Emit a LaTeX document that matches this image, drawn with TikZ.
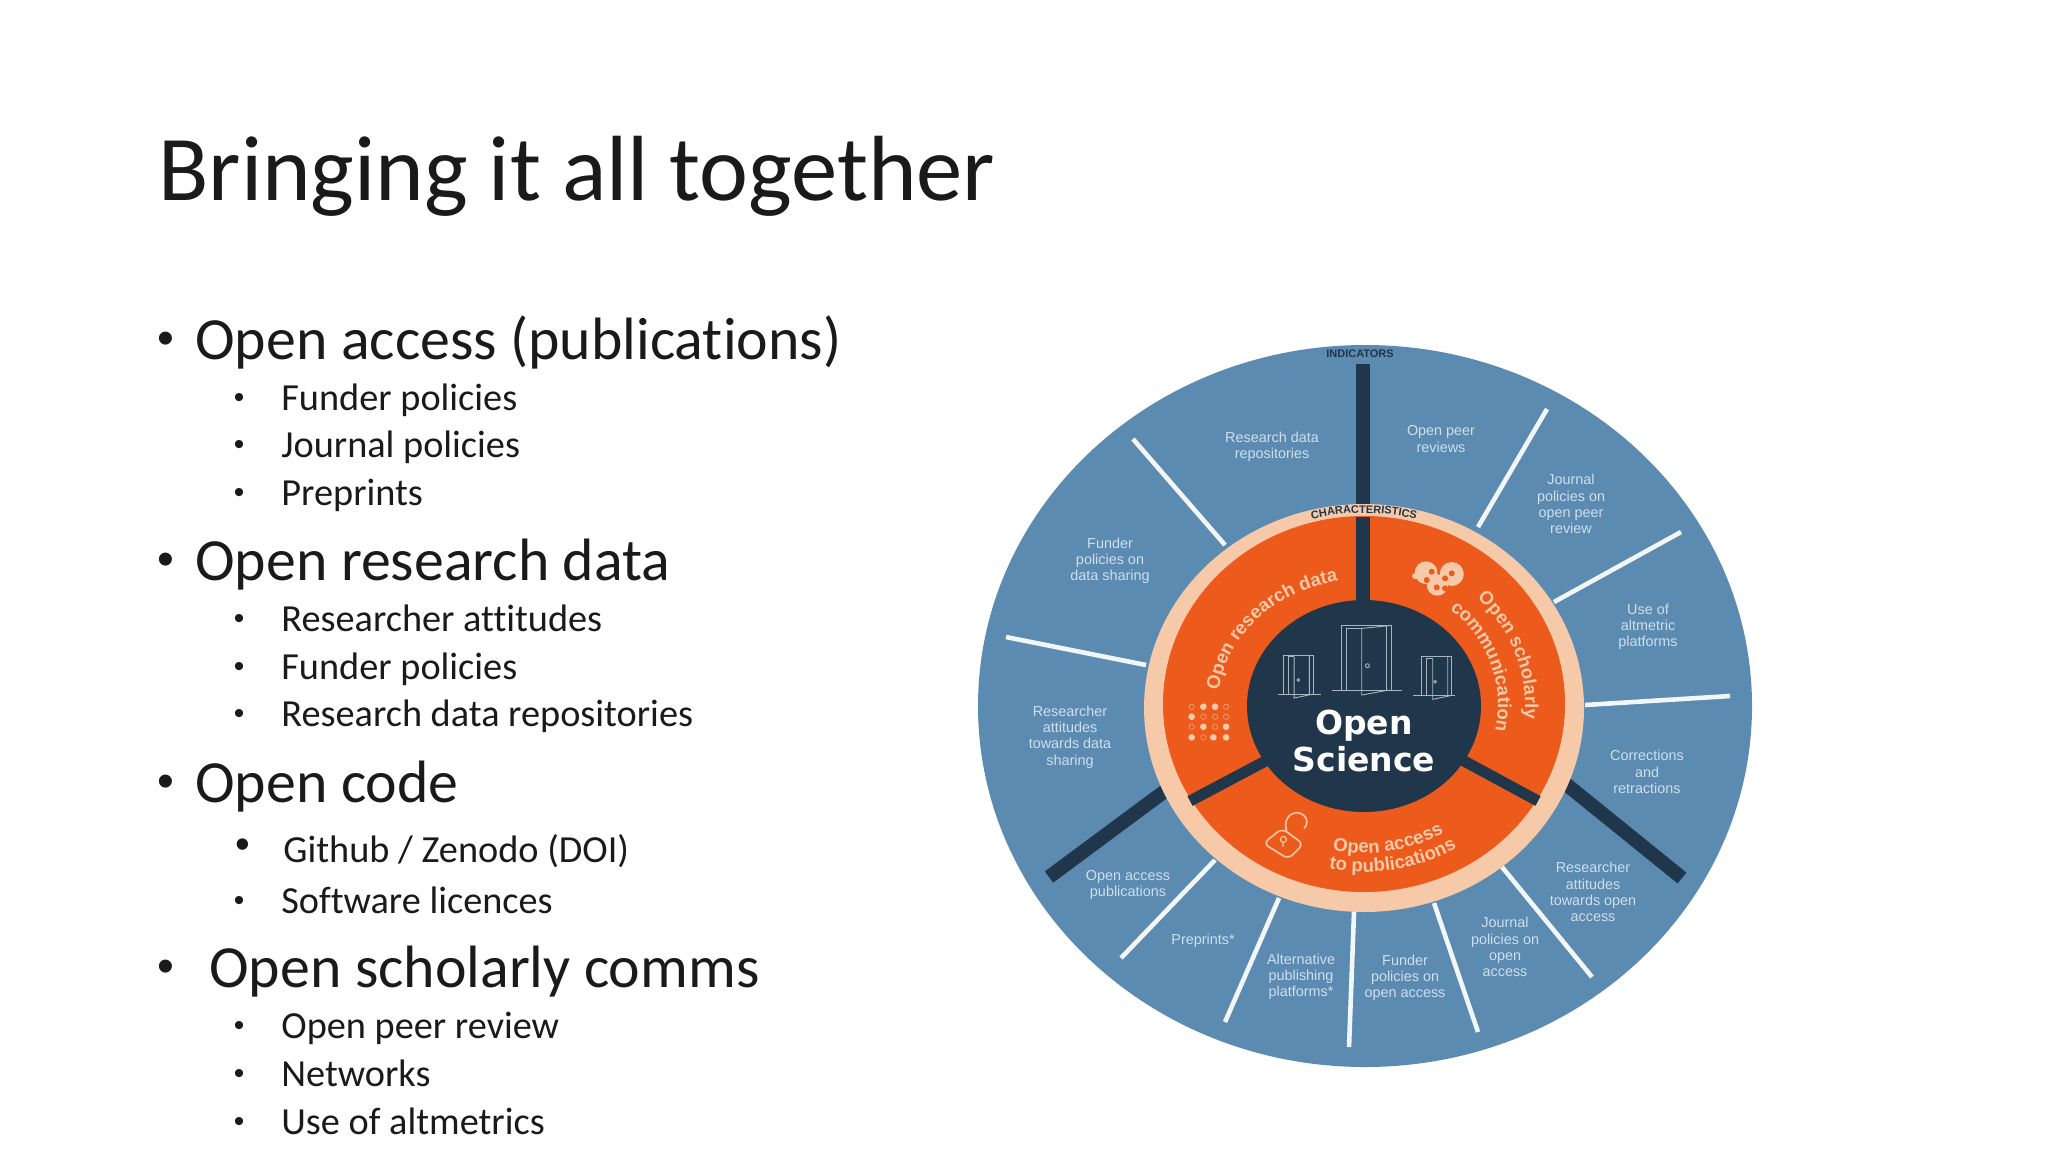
\documentclass[tikz,border=0pt]{standalone}
\usepackage{fontspec}
\usetikzlibrary{decorations.text}
\setmainfont[Ligatures=CommonOff]{Carlito}
\newfontfamily\labfont{Liberation Sans}
\newfontfamily\heavyfont{DejaVu Sans}
\definecolor{diskblue}{HTML}{5B8BB1}
\definecolor{ringpeach}{HTML}{F6C9A8}
\definecolor{corange}{HTML}{EC5A1C}
\definecolor{navy}{HTML}{20364A}
\definecolor{labtxt}{HTML}{CFDFEB}
\definecolor{doorline}{HTML}{A9B6BF}
\definecolor{txt}{HTML}{1A1A1A}
\tikzset{
  head/.style={anchor=base west,inner sep=0,text=txt,font=\fontsize{46.3}{47}\selectfont},
  lone/.style={anchor=base west,inner sep=0,text=txt,font=\fontsize{29.9}{30}\selectfont},
  ltwo/.style={anchor=base west,inner sep=0,text=txt,font=\fontsize{19.15}{20}\selectfont},
  bulone/.style={anchor=base,inner sep=0,text=txt,font=\labfont\fontsize{24}{24}\selectfont},
  bultwo/.style={anchor=base,inner sep=0,text=txt,font=\labfont\fontsize{15}{15}\selectfont},
  lab/.style={align=center,inner sep=0,text=labtxt,font=\labfont\fontsize{7.2}{8.1}\selectfont},
  spokew/.style={draw=white!92!diskblue,line width=2.3pt},
  spoked/.style={draw=navy,line width=7pt},
  spokei/.style={draw=navy,line width=5.5pt},
  doorl/.style={draw=doorline,line width=0.45pt},
}
\newcommand\archtext[6]{\path[decorate,decoration={text along path,text align=center,text={|#6|#5}}] plot[domain=#1:#2,samples=60,variable=\t] ({1364+#3*cos(\t)},{705-#4*sin(\t)});}
\newcommand\curvef{\color{ringpeach}\labfont\bfseries\fontsize{9.3}{10}\selectfont}
\newcommand\smallcaptf{\color{navy}\labfont\bfseries\fontsize{5.5}{6}\selectfont}
\begin{document}
\begin{tikzpicture}[x=0.5pt,y=-0.5pt]
\useasboundingbox (0,0) rectangle (2048,1152);
\fill[white] (0,0) rectangle (2048,1152);
% ---- slide text
\node[head] (title) at (158,200) {Bringing it all together};
\foreach \nm/\xa/\xb/\yy/\tx in {
 a/166/195/359/Open access (publications),
 b/166/195/580/Open research data,
 c/166/195/802/Open code,
 d/166/209/987/Open scholarly comms}{
  \node[bulone] (bul\nm) at (\xa,\yy-5) {•};
  \node[lone] (t\nm) at (\xb,\yy) {\tx};
}
\foreach \nm/\yy/\tx in {
 a1/410/Funder policies,
 a2/457/Journal policies,
 a3/505/Preprints,
 b1/631/Researcher attitudes,
 b2/679/Funder policies,
 b3/726/Research data repositories,
 c2/913/Software licences,
 d1/1038/Open peer review,
 d2/1086/Networks,
 d3/1134/Use of altmetrics}{
  \node[bultwo] (bul\nm) at (239,\yy-3) {•};
  \node[ltwo] (t\nm) at (281,\yy) {\tx};
}
\node[bulone,font=\labfont\fontsize{21}{21}\selectfont] (bulc1) at (243,858) {•};
\node[ltwo] (tc1) at (283,862) {Github / Zenodo (DOI)};
% ---- wheel
\fill[diskblue] (1365,706) ellipse [x radius=387,y radius=361];
% dark spokes outer
\draw[spoked] (1363,364) -- (1363,520);
\draw[spoked] (1049,877) -- (1200,765);
\draw[spoked] (1682,878) -- (1530,755);
% white spokes
\foreach \xa/\ya/\xb/\yb in {
 1133/439/1225/545, 1547/409/1478/527, 1681/532/1554/602, 1730/696/1585/705,
 1006/637/1146/665, 1121/958/1215/860, 1225/1022/1279/898, 1349/1047/1354/912,
 1478/1032/1434/903, 1592/977/1502/867}{
  \draw[spokew] (\xa,\ya) -- (\xb,\yb);
}
\fill[ringpeach] (1364,708) ellipse [x radius=220,y radius=204];
\fill[corange] (1364,704) ellipse [x radius=201,y radius=188];
% dark spokes inner
\draw[spoked] (1363,517) -- (1363,620);
\draw[spokei] (1190,801) -- (1290,748);
\draw[spokei] (1538,801) -- (1440,748);
\fill[navy] (1364,706) ellipse [x radius=117,y radius=106];
% curved labels
\archtext{120}{60}{208}{192}{CHARACTERISTICS}{\smallcaptf}
\archtext{183}{92}{146}{126}{Open research data}{\curvef}
\archtext{50}{-10}{161}{150}{Open scholarly}{\curvef}
\archtext{52}{-14}{134}{125}{communication}{\curvef}
\archtext{250}{309}{159}{148}{Open access}{\curvef}
\archtext{250}{310}{180}{167}{to publications}{\curvef}
\node[inner sep=0,font=\smallcaptf] (ind) at (1360,354) {INDICATORS};
% centre
\node[inner sep=0,text=white,font=\heavyfont\bfseries\fontsize{16.5}{17}\selectfont] (open) at (1364,726) {Open};
\node[inner sep=0,text=white,font=\heavyfont\bfseries\fontsize{16.5}{17}\selectfont] (science) at (1364,759) {Science};
% outer labels
\node[lab] (l1) at (1272,447) {Research data\\repositories};
\node[lab] (l2) at (1441,439) {Open peer\\reviews};
\node[lab] (l3) at (1571,504) {Journal\\policies on\\open peer\\review};
\node[lab] (l4) at (1110,561) {Funder\\policies on\\data sharing};
\node[lab] (l5) at (1648,627) {Use of\\altmetric\\platforms};
\node[lab] (l6) at (1070,737) {Researcher\\attitudes\\towards data\\sharing};
\node[lab] (l7) at (1647,772) {Corrections\\and\\retractions};
\node[lab] (l8) at (1593,892) {Researcher\\attitudes\\towards open\\access};
\node[lab] (l9) at (1128,885) {Open access\\publications};
\node[lab] (l10) at (1203,941) {Preprints*};
\node[lab] (l11) at (1301,977) {Alternative\\publishing\\platforms*};
\node[lab] (l12) at (1405,978) {Funder\\policies on\\open access};
\node[lab] (l13) at (1505,947) {Journal\\policies on\\open\\access};
% ---- icons, in 3x-crop coordinates
\begin{scope}[shift={(1150,500)},x=0.1667pt,y=-0.1667pt]
 % big door
 \draw[doorl] (545,570) -- (755,570);
 \draw[doorl] (590,570) -- (590,385) -- (635,385) (575,570) -- (575,375) -- (725,375) -- (725,570) (710,375) -- (710,570);
 \draw[doorl] (635,385) -- (635,585) -- (716,570) (635,385) -- (716,377);
 \draw[doorl] (652,497) circle (6);
 % left door
 \draw[doorl] (385,582) -- (512,582);
 \draw[doorl] (400,582) -- (400,465) -- (490,465) -- (490,582) (415,582) -- (415,470) -- (432,470);
 \draw[doorl] (432,470) -- (432,594) -- (490,582) (478,465) -- (478,582);
 \draw[doorl] (445,540) circle (4);
 % right door
 \draw[doorl] (790,586) -- (915,586);
 \draw[doorl] (815,586) -- (815,470) -- (905,470) -- (905,586) (830,586) -- (830,476) -- (848,476);
 \draw[doorl] (848,476) -- (848,598) -- (905,586) (893,470) -- (893,586);
 \draw[doorl] (855,545) circle (4);
 % open lock
 \draw[draw=ringpeach,line width=0.8pt,rounded corners=3pt] (340,1030) -- (396,985) -- (460,1032) -- (415,1077) -- cycle;
 \draw[draw=ringpeach,line width=0.8pt] (410,992) .. controls (395,950) and (435,925) .. (460,945) .. controls (475,955) and (472,975) .. (462,985);
 \draw[draw=ringpeach,line width=0.6pt] (400,1018) circle (9);
 \draw[draw=ringpeach,line width=0.6pt] (400,1026) -- (398,1040);
 % heart of people
 \fill[ringpeach] (828,218) circle (34) (905,222) circle (36) (862,255) circle (32);
 \fill[ringpeach] (795,228) circle (9);
 \foreach \p in {(845,215),(885,235),(905,220),(860,262),(830,240),(885,265)}{
   \fill[corange] \p circle (9);
 }
 % data dots
 \foreach \p in {(160,620),(195,620),(125,650),(160,680),(228,680),(125,712),(190,712),(228,712)}{
   \fill[ringpeach] \p circle (10);
 }
 \foreach \p in {(125,620),(228,620),(160,650),(195,650),(228,650),(125,680),(195,680),(160,712)}{
   \draw[draw=ringpeach!70!corange,line width=0.3pt] \p circle (8);
 }
\end{scope}
\end{tikzpicture}
\end{document}
